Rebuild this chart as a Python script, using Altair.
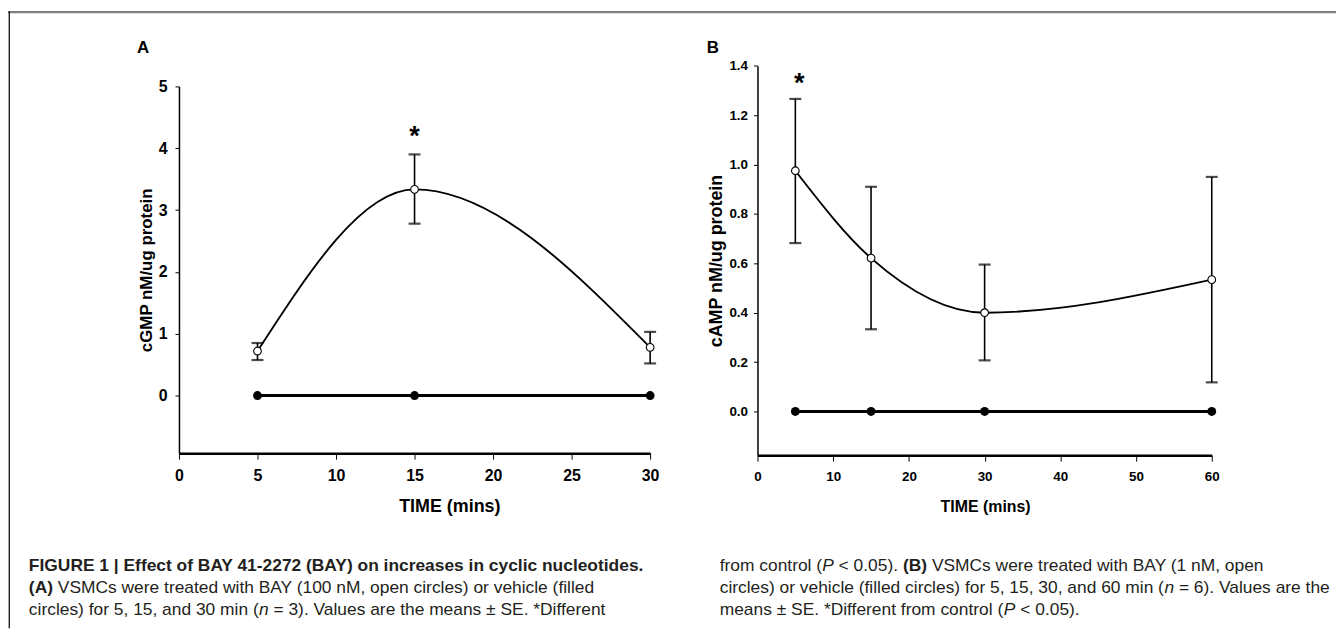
import altair as alt
import pandas as pd

# ---------------- Panel A : cGMP ----------------
A_TIME = [5, 15, 30]
A_BAY = [0.72, 3.335, 0.78]
A_SE_LO = [0.575, 2.78, 0.52]
A_SE_HI = [0.85, 3.90, 1.03]
A_VEHICLE = [0, 0, 0]
A_STAR_TIME = [15]
A_STAR_Y = [4.27]
A_X_TICKS = [0, 5, 10, 15, 20, 25, 30]
A_Y_TICKS = [0, 1, 2, 3, 4, 5]

# ---------------- Panel B : cAMP ----------------
B_TIME = [5, 15, 30, 60]
B_BAY = [0.975, 0.621, 0.400, 0.534]
B_SE_LO = [0.682, 0.333, 0.207, 0.118]
B_SE_HI = [1.266, 0.910, 0.595, 0.950]
B_VEHICLE = [0, 0, 0, 0]
B_STAR_TIME = [5.5]
B_STAR_Y = [1.352]
B_X_TICKS = [0, 10, 20, 30, 40, 50, 60]
B_Y_TICKS = [0.0, 0.2, 0.4, 0.6, 0.8, 1.0, 1.2, 1.4]

# ---------------- Caption text ----------------
CAPTION_LEFT = [
    [("FIGURE 1 | Effect of BAY 41-2272 (BAY) on increases in cyclic nucleotides.", "bold")],
    [("(A)", "bold"), (" VSMCs were treated with BAY (100 nM, open circles) or vehicle (filled", "normal")],
    [("circles) for 5, 15, and 30 min (", "normal"), ("n", "italic"),
     (" = 3). Values are the means \u00b1 SE. *Different", "normal")],
]
CAPTION_RIGHT = [
    [("from control (", "normal"), ("P", "italic"), (" < 0.05). ", "normal"), ("(B)", "bold"),
     (" VSMCs were treated with BAY (1 nM, open", "normal")],
    [("circles) or vehicle (filled circles) for 5, 15, 30, and 60 min (", "normal"), ("n", "italic"),
     (" = 6). Values are the", "normal")],
    [("means \u00b1 SE. *Different from control (", "normal"), ("P", "italic"), (" < 0.05).", "normal")],
]

FONT = "Liberation Sans"
W, H = 1336, 622

# ---- text width helper (Arial / Liberation Sans metrics, per 1000 em) ----
REG = {c: 556 for c in "abdeghnopqu0123456789"}
REG.update({"c": 500, "f": 278, "i": 222, "j": 222, "k": 500, "l": 222, "m": 833, "r": 333,
            "s": 500, "t": 278, "v": 500, "w": 722, "x": 500, "y": 500, "z": 500,
            "A": 667, "B": 667, "C": 722, "D": 722, "E": 667, "F": 611, "G": 778, "H": 722,
            "I": 278, "M": 833, "N": 722, "P": 667, "S": 667, "T": 611, "V": 667, "Y": 667,
            " ": 278, "(": 333, ")": 333, ",": 278, ".": 278, "<": 584, "=": 584,
            "\u00b1": 549, "*": 389, "|": 260, "-": 333})
BOLD = dict(REG)
BOLD.update({"A": 722, "B": 722, "(": 333, ")": 333, " ": 278})


def text_width(s, style, fs):
    table = BOLD if style == "bold" else REG
    return sum(table.get(c, 556) for c in s) / 1000.0 * fs


CAP_FS = 17.5
CAP_X = [21, 716]
CAP_Y = [560, 582, 604]


def caption_rows():
    rows = []
    for col, lines in zip(CAP_X, [CAPTION_LEFT, CAPTION_RIGHT]):
        for li, segs in enumerate(lines):
            x = col
            for txt, style in segs:
                lead = len(txt) - len(txt.lstrip(" "))
                xs = x + text_width(txt[:lead], style, CAP_FS)
                rows.append({"x": xs, "y": CAP_Y[li], "text": txt.strip(" "), "style": style})
                x += text_width(txt, style, CAP_FS)
    return pd.DataFrame(rows)


cap_df = caption_rows()


def caption_layer(style, weight, fstyle):
    return alt.Chart(cap_df[cap_df["style"] == style]).mark_text(
        font=FONT, fontSize=CAP_FS, fontWeight=weight, fontStyle=fstyle,
        align="left", baseline="middle", color="#231f20"
    ).encode(
        x=alt.X("x:Q", scale=None, axis=None),
        y=alt.Y("y:Q", scale=None, axis=None),
        text="text:N",
    )


COMMON_AXIS = dict(grid=False, domainColor="black", tickColor="black", labelColor="black",
                   titleColor="black", labelFont=FONT, titleFont=FONT, labelFontWeight="bold",
                   titleFontWeight="bold", tickWidth=1, labelFlush=False, labelOverlap=False,
                   labelBound=False)


def panel(time, bay, lo, hi, veh, star_t, star_y, xdom, xrange, ydom, yrange, xaxis, yaxis):
    df = pd.DataFrame({"t": time, "bay": bay, "lo": lo, "hi": hi, "veh": veh})
    star = pd.DataFrame({"t": star_t, "y": star_y})
    xs = alt.Scale(domain=xdom, range=xrange, nice=False, zero=False)
    ys = alt.Scale(domain=ydom, range=yrange, nice=False, zero=False)

    def X():
        return alt.X("t:Q", scale=xs, axis=xaxis)

    def Y(field):
        return alt.Y(field + ":Q", scale=ys, axis=yaxis)

    base = alt.Chart(df)
    veh_line = base.mark_line(color="black", strokeWidth=3).encode(x=X(), y=Y("veh"))
    veh_pts = base.mark_point(shape="circle", filled=True, color="black", size=80, opacity=1).encode(
        x=X(), y=Y("veh"))
    err = base.mark_rule(color="black", strokeWidth=1.6).encode(x=X(), y=Y("lo"), y2="hi:Q")
    cap_lo = base.mark_tick(color="black", orient="horizontal", size=12, thickness=2.2).encode(
        x=X(), y=Y("lo"))
    cap_hi = base.mark_tick(color="black", orient="horizontal", size=12, thickness=2.2).encode(
        x=X(), y=Y("hi"))
    bay_line = base.mark_line(color="black", strokeWidth=1.9, interpolate="monotone").encode(
        x=X(), y=Y("bay"))
    bay_pts = base.mark_point(shape="circle", filled=True, fill="white", stroke="black",
                              strokeWidth=1.1, size=60, opacity=1).encode(x=X(), y=Y("bay"))
    star_mark = alt.Chart(star).mark_text(text="*", font=FONT, fontSize=27, fontWeight="bold",
                                          baseline="alphabetic", dy=14, color="black").encode(
        x=X(), y=Y("y"))
    return alt.layer(veh_line, veh_pts, err, cap_lo, cap_hi, bay_line, bay_pts, star_mark)


# ---- panel A ----
A_X0, A_X1 = 172, 646
A_YBOT, A_YTOP = 446, 77
xaxis_A = alt.Axis(orient="bottom", offset=A_YBOT - H, values=A_X_TICKS, format="d", tickSize=6,
                   labelPadding=8, labelFontSize=16, domainWidth=2.5, title="TIME (mins)",
                   titleFontSize=18, titleX=444, titleY=54, titleAlign="center",
                   titleBaseline="middle", **COMMON_AXIS)
yaxis_A = alt.Axis(orient="left", offset=-A_X0, values=A_Y_TICKS, format="d", tickSize=4,
                   labelPadding=8, labelFontSize=16, domainWidth=1.5, title="cGMP nM/ug protein",
                   titleFontSize=17, titleAngle=270, titleX=-33, titleY=(A_YBOT + A_YTOP) / 2,
                   titleAlign="center", titleBaseline="middle", **COMMON_AXIS)
panelA = panel(A_TIME, A_BAY, A_SE_LO, A_SE_HI, A_VEHICLE, A_STAR_TIME, A_STAR_Y,
               [0, 30], [A_X0, A_X1], [-0.932, 5], [A_YBOT, A_YTOP], xaxis_A, yaxis_A)

# ---- panel B ----
B_X0, B_X1 = 754, 1211
B_YBOT, B_YTOP = 448, 56.3
xaxis_B = alt.Axis(orient="bottom", offset=B_YBOT - H, values=B_X_TICKS, format="d", tickSize=6,
                   labelPadding=8, labelFontSize=13.5, domainWidth=2.5, title="TIME (mins)",
                   titleFontSize=16, titleX=983, titleY=52, titleAlign="center",
                   titleBaseline="middle", **COMMON_AXIS)
yaxis_B = alt.Axis(orient="left", offset=-B_X0, values=B_Y_TICKS, format=".1f", tickSize=4,
                   labelPadding=6, labelFontSize=13.5, domainWidth=1.5, title="cAMP nM/ug protein",
                   titleFontSize=18, titleAngle=270, titleX=-41, titleY=(B_YBOT + B_YTOP) / 2,
                   titleAlign="center", titleBaseline="middle", **COMMON_AXIS)
panelB = panel(B_TIME, B_BAY, B_SE_LO, B_SE_HI, B_VEHICLE, B_STAR_TIME, B_STAR_Y,
               [0, 60], [B_X0, B_X1], [-0.177, 1.4], [B_YBOT, B_YTOP], xaxis_B, yaxis_B)

# ---- decorations ----
dummy = pd.DataFrame({"d": [0]})
frame_top = alt.Chart(dummy).mark_rule(color="#7f7f7f", strokeWidth=2.2).encode(
    x=alt.value(0), x2=alt.value(W), y=alt.value(2.3))
frame_left = alt.Chart(dummy).mark_rule(color="#1e1e1e", strokeWidth=1.4).encode(
    x=alt.value(1.3), y=alt.value(1.3), y2=alt.value(H))
label_A = alt.Chart(dummy).mark_text(font=FONT, fontSize=17, fontWeight="bold", align="center",
                                     baseline="middle", color="black").encode(
    x=alt.value(136), y=alt.value(38), text=alt.value("A"))
label_B = alt.Chart(dummy).mark_text(font=FONT, fontSize=17, fontWeight="bold", align="center",
                                     baseline="middle", color="black").encode(
    x=alt.value(709), y=alt.value(38), text=alt.value("B"))

chart = alt.layer(
    frame_top, frame_left, panelA, panelB, label_A, label_B,
    caption_layer("normal", "normal", "normal"),
    caption_layer("bold", "bold", "normal"),
    caption_layer("italic", "normal", "italic"),
).resolve_scale(x="independent", y="independent").properties(
    width=W, height=H, autosize=alt.AutoSizeParams(type="none"), padding=0, background="white"
).configure_view(stroke=None)

chart.save("out.html", embed_options={"renderer": "svg", "actions": False})
